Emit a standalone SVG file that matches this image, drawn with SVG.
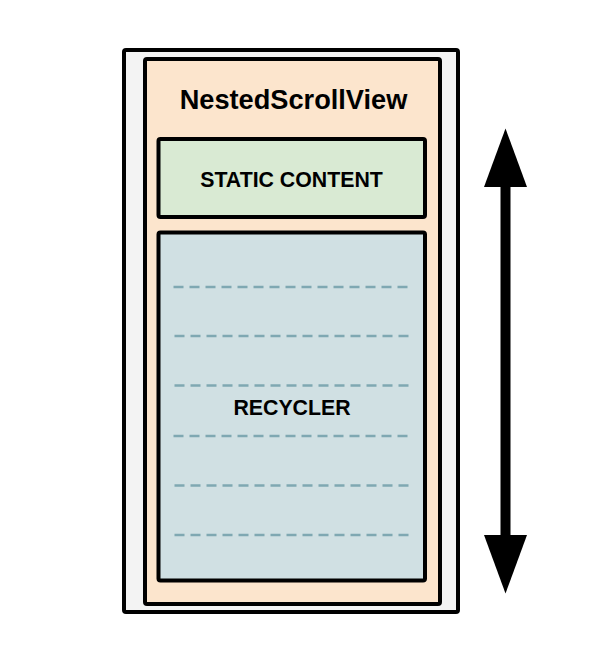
<svg xmlns="http://www.w3.org/2000/svg" width="600" height="665" viewBox="0 0 600 665">
  <style>
    .box { stroke: #000; stroke-width: 4; stroke-linejoin: round; }
    .label { font-family: "Liberation Sans", Arial, sans-serif; font-weight: bold; fill: #000; text-anchor: middle; }
    .row { stroke: #7fa8b2; stroke-width: 2.5; stroke-dasharray: 10 6; }
  </style>
  <rect width="600" height="665" fill="#fff"/>

  <g id="device">
    <rect class="box" x="124" y="50" width="334" height="562" rx="2" fill="#f3f3f3"/>
  </g>

  <g id="nested-scroll-view">
    <rect class="box" x="145" y="59" width="295" height="545" rx="2" fill="#fce5cd"/>
    <text class="label" x="293.5" y="108.5" font-size="27.2">NestedScrollView</text>
  </g>

  <g id="static-content">
    <rect class="box" x="158.5" y="139" width="266.5" height="78" rx="2" fill="#d9ead3"/>
    <text class="label" x="291.5" y="186.5" font-size="21.3">STATIC CONTENT</text>
  </g>

  <g id="recycler">
    <rect class="box" x="158.5" y="232.5" width="266.5" height="348" rx="2" fill="#d0e0e3"/>
    <g>
      <line class="row" x1="173.5" y1="287" x2="409" y2="287"/>
      <line class="row" x1="174.5" y1="336" x2="409" y2="336"/>
      <line class="row" x1="174.5" y1="385.5" x2="409" y2="385.5"/>
      <line class="row" x1="173.5" y1="436" x2="409" y2="436"/>
      <line class="row" x1="174.5" y1="485.5" x2="409" y2="485.5"/>
      <line class="row" x1="174.5" y1="535" x2="409" y2="535"/>
    </g>
    <text class="label" x="292" y="415" font-size="21.3">RECYCLER</text>
  </g>

  <g id="connectors">
    <line x1="505.5" y1="185" x2="505.5" y2="537" stroke="#000" stroke-width="10"/>
    <polygon points="505.5,128.5 527,187 484,187" fill="#000"/>
    <polygon points="505.5,593.5 527,535 484,535" fill="#000"/>
  </g>
</svg>
